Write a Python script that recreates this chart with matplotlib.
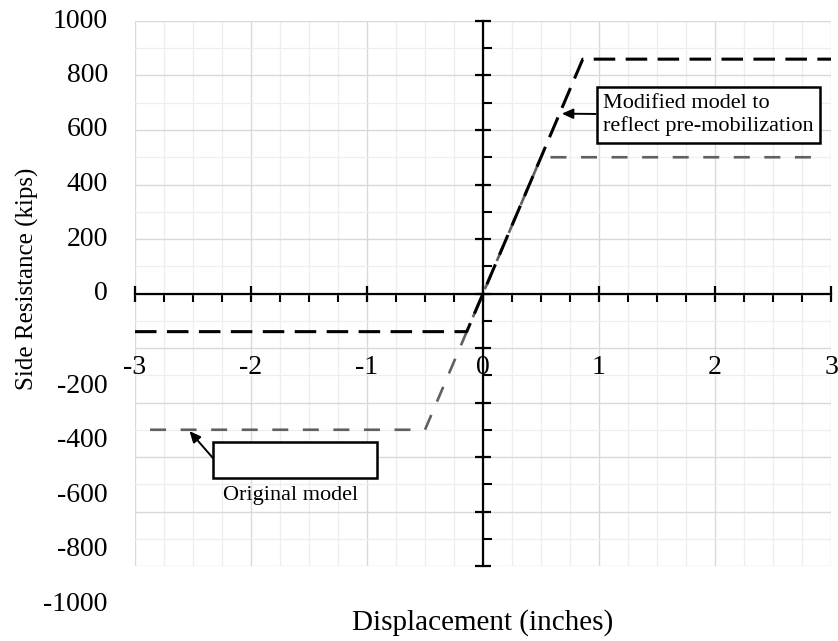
import matplotlib
matplotlib.use("Agg")
import matplotlib.pyplot as plt
from matplotlib.patches import Rectangle
from matplotlib.ticker import MultipleLocator
import numpy as np

plt.rcParams['font.family'] = ['Liberation Serif', 'DejaVu Serif']
plt.rcParams['lines.scale_dashes'] = False

# t-z style side resistance curves (displacement in inches, resistance in kips)
modified_x = [-3.0, -0.14, 0.86, 3.0]
modified_y = [-140, -140, 860, 860]
original_x = [-2.87, -0.5, 0.5, 2.88]
original_y = [-500, -500, 500, 500]

x_ticks = [-3, -2, -1, 0, 1, 2, 3]
y_ticks = [1000, 800, 600, 400, 200, 0, -200, -400, -600, -800, -1000]

fig = plt.figure(figsize=(8.38, 6.41), dpi=100)
ax = fig.add_axes([135 / 838, 1 - 566 / 641, 696 / 838, 545 / 641])

ax.set_xlim(-3, 3)
ax.set_ylim(-1000, 1000)
ax.set_axisbelow(True)

# grid
ax.xaxis.set_major_locator(MultipleLocator(1))
ax.xaxis.set_minor_locator(MultipleLocator(0.25))
ax.yaxis.set_major_locator(MultipleLocator(200))
ax.yaxis.set_minor_locator(MultipleLocator(100))
ax.grid(which='major', color='#d9d9d9', lw=1.0)
ax.grid(which='minor', color='#eeeeee', lw=0.9)

# axes crossing at the origin
for side in ['top', 'right']:
    ax.spines[side].set_visible(False)
ax.spines['left'].set_position(('data', 0))
ax.spines['bottom'].set_position(('data', 0))
for side in ['left', 'bottom']:
    ax.spines[side].set_linewidth(1.6)
    ax.spines[side].set_color('black')

ax.tick_params(which='major', direction='inout', length=12, width=1.6, color='black')
ax.tick_params(axis='x', which='minor', direction='out', length=5.5, width=1.5)
ax.tick_params(axis='y', which='minor', direction='in', length=6.5, width=1.5)
ax.tick_params(labelbottom=False, labelleft=False)

# tick labels
for v in y_ticks:
    ypos = v if v >= 0 else v - 140
    ax.text(-0.039, ypos, str(v), transform=ax.get_yaxis_transform(),
            ha='right', va='center', fontsize=20)
for v in x_ticks:
    ax.text(v, -270, str(v), ha='center', va='center', fontsize=20)

# curves
ax.plot(original_x, original_y, color='#606060', lw=1.9,
        dashes=(11.5, 10.5), zorder=3)
ax.plot(modified_x, modified_y, color='black', lw=2.2,
        dashes=(15.5, 7.5), zorder=4, clip_on=False)

# callouts
ax.annotate('Modified model to\nreflect pre-mobilization',
            xy=(0.68, 660), xytext=(1.944, 655),
            ha='center', va='center', multialignment='left', fontsize=16,
            bbox=dict(boxstyle='square,pad=0.3', fc='white', ec='black', lw=1.8),
            arrowprops=dict(arrowstyle='-|>,head_length=0.55,head_width=0.25',
                            color='black', lw=1.4, mutation_scale=12,
                            shrinkA=0, shrinkB=0),
            zorder=6)

ax.add_patch(Rectangle((-2.33, -676), 1.416, 132, fc='white', ec='black',
                       lw=1.8, zorder=6))
ax.annotate('', xy=(-2.53, -505), xytext=(-2.33, -603),
            arrowprops=dict(arrowstyle='-|>,head_length=0.55,head_width=0.25',
                            color='black', lw=1.4, mutation_scale=12,
                            shrinkA=0, shrinkB=0),
            zorder=6)
ax.text(-1.655, -743, 'Original model', ha='center', va='center', fontsize=16)

fig.text(27 / 838, 1 - 279 / 641, 'Side Resistance (kips)', rotation=90,
         ha='center', va='center', fontsize=18)
fig.text(483 / 838, 1 - 623 / 641, 'Displacement (inches)',
         ha='center', va='center', fontsize=21)

fig.savefig('out.png', dpi=100)
